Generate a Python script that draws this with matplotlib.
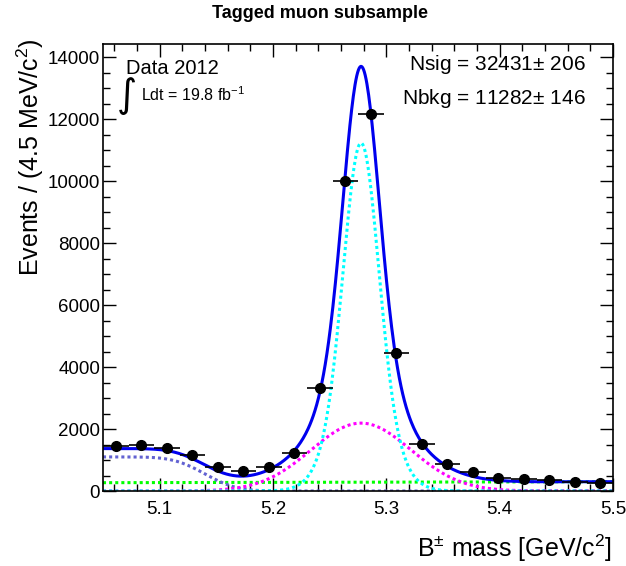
import math
import numpy as np
import matplotlib
matplotlib.use("Agg")
import matplotlib.pyplot as plt
from matplotlib.ticker import MultipleLocator

plt.rcParams['font.family'] = ['Liberation Sans', 'DejaVu Sans']
plt.rcParams['mathtext.fontset'] = 'custom'
plt.rcParams['mathtext.rm'] = 'Liberation Sans'
plt.rcParams['mathtext.it'] = 'Liberation Sans'

# data points (bin centres, events per bin)
mass = [5.06125, 5.08375, 5.10625, 5.12875, 5.15125, 5.17375, 5.19625, 5.21875,
        5.24125, 5.26375, 5.28625, 5.30875, 5.33125, 5.35375, 5.37625, 5.39875,
        5.42125, 5.44375, 5.46625, 5.48875]
events = [1450, 1480, 1390, 1170, 770, 650, 760, 1220, 3330, 10000, 12160, 4450,
          1520, 860, 620, 430, 400, 350, 300, 250]
bin_w = 0.0225

# fit components
m_peak = 5.2777
sig_height, sig_core, sig_wide, core_frac = 11225, 0.0148, 0.023, 0.70
wide_height, wide_sigma = 2190, 0.044
prc_height, prc_edge, prc_width = 1100, 5.140, 0.022
comb_lo, comb_hi = 268, 300

x = np.linspace(5.05, 5.5, 600)
erf = np.vectorize(math.erf)
signal = sig_height * (core_frac * np.exp(-0.5 * ((x - m_peak) / sig_core) ** 2)
                       + (1 - core_frac) * np.exp(-0.5 * ((x - m_peak) / sig_wide) ** 2))
wide = wide_height * np.exp(-0.5 * ((x - m_peak) / wide_sigma) ** 2)
prc = prc_height * 0.5 * (1 - erf((x - prc_edge) / (math.sqrt(2) * prc_width)))
comb = comb_lo + (comb_hi - comb_lo) * (x - 5.05) / 0.45
total = signal + wide + prc + comb

fig = plt.figure(figsize=(6.26, 5.66), dpi=100)
ax = fig.add_axes([103/626, 75/566, 510/626, 447/566])

dot = (0, (1, 1))
ax.plot(x, comb, color='#00ff00', lw=2.2, ls=dot)
ax.plot(x, prc, color='#6262d2', lw=2.2, ls=dot)
ax.plot(x, wide, color='#ff00ff', lw=2.2, ls=dot)
ax.plot(x, signal, color='#00ffff', lw=2.2, ls=dot)
ax.plot(x, total, color='#0000ee', lw=2.2)
ax.errorbar(mass, events, xerr=bin_w/2, yerr=np.sqrt(events), fmt='o', color='black',
            ms=7, elinewidth=1.2, capsize=0, zorder=5)

ax.set_xlim(5.05, 5.5)
ax.set_ylim(0, 14420)
ax.xaxis.set_major_locator(MultipleLocator(0.1))
ax.xaxis.set_minor_locator(MultipleLocator(0.02))
ax.yaxis.set_major_locator(MultipleLocator(2000))
ax.yaxis.set_minor_locator(MultipleLocator(500))
ax.tick_params(which='both', direction='in', top=True, right=True, width=1.0)
ax.tick_params(which='major', length=9.5, labelsize=13.5)
ax.tick_params(which='minor', length=5)
ax.tick_params(axis='x', pad=7)
ax.tick_params(axis='y', pad=2)
for s in ax.spines.values():
    s.set_linewidth(1.2)

fig.text(0.511, 1 - 14/566, 'Tagged muon subsample', ha='center', va='center',
         fontsize=13, fontweight='bold')
fig.text(30/626, 1 - 38/566, 'Events / (4.5 MeV/c$^{2}$)', rotation=90, ha='center',
         va='top', fontsize=18)
fig.text(612/626, 1 - 548/566, r'B$^{\pm}$ mass [GeV/c$^{2}$]', ha='right',
         va='center', fontsize=18)

fig.text(126/626, 1 - 68/566, 'Data 2012', ha='left', va='center', fontsize=14.5)
fig.text(127/626, 1 - 96/566, '∫', ha='center', va='center', fontsize=28,
         family='DejaVu Sans')
fig.text(141/626, 1 - 95/566, 'Ldt = 19.8 fb$^{-1}$', ha='left', va='center',
         fontsize=11.5)
fig.text(586/626, 1 - 65/566, 'Nsig = 32431$\\pm$ 206', ha='right', va='center',
         fontsize=15)
fig.text(586/626, 1 - 98/566, 'Nbkg = 11282$\\pm$ 146', ha='right', va='center',
         fontsize=15)

fig.savefig('out.png', dpi=100)
